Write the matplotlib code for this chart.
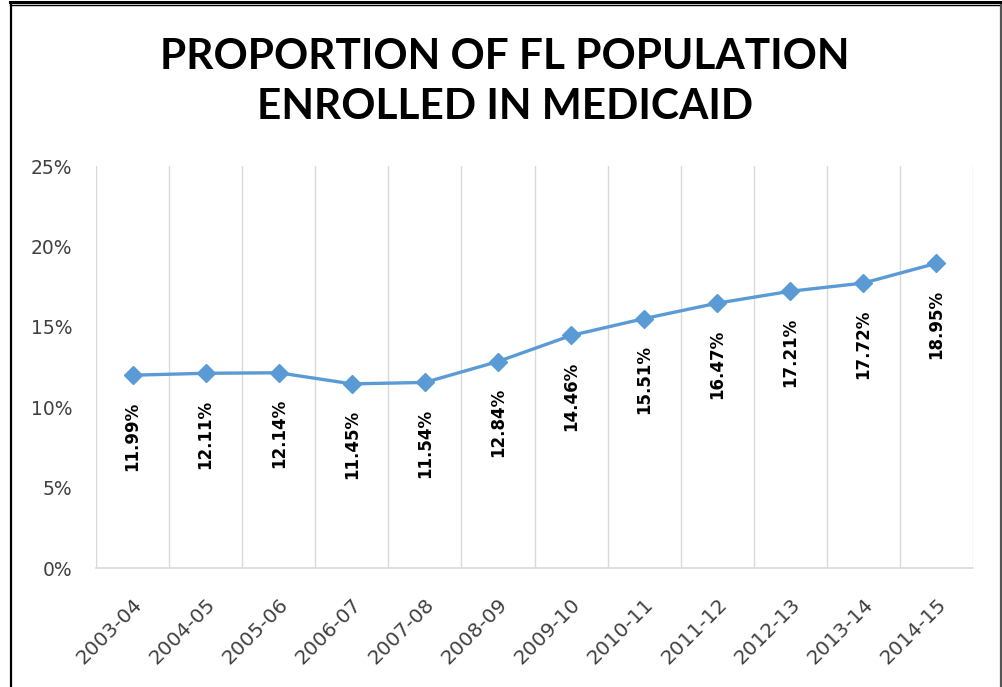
import matplotlib
matplotlib.use("Agg")
import matplotlib.pyplot as plt
from matplotlib.lines import Line2D
from matplotlib.ticker import PercentFormatter
from matplotlib.transforms import ScaledTranslation

# data
years = ["2003-04", "2004-05", "2005-06", "2006-07", "2007-08", "2008-09",
         "2009-10", "2010-11", "2011-12", "2012-13", "2013-14", "2014-15"]
share = [11.99, 12.11, 12.14, 11.45, 11.54, 12.84,
         14.46, 15.51, 16.47, 17.21, 17.72, 18.95]

W, H = 1003, 687
fig = plt.figure(figsize=(W / 100, H / 100), dpi=100)

# outer frame (double line on top)
fig.add_artist(Line2D([10 / W, 1], [1 - 1.5 / H, 1 - 1.5 / H], color="black", lw=2.2, transform=fig.transFigure))
fig.add_artist(Line2D([10 / W, 1], [1 - 5 / H, 1 - 5 / H], color="black", lw=1.0, transform=fig.transFigure))
fig.add_artist(Line2D([10.5 / W, 10.5 / W], [0, 1 - 5 / H], color="black", lw=1.6, transform=fig.transFigure))
fig.add_artist(Line2D([1001.5 / W, 1001.5 / W], [0, 1 - 5 / H], color="#555555", lw=1.6, transform=fig.transFigure))

ax = fig.add_axes([96 / W, (H - 568) / H, (973 - 96) / W, (568 - 166) / H])

x = list(range(len(years)))
ax.plot(x, share, color="#5B9BD5", lw=2.4, marker="D", ms=9, mec="#5B9BD5", mfc="#5B9BD5", zorder=3)

for xi, v in zip(x, share):
    ax.annotate(f"{v:.2f}%", (xi, v), xytext=(0, -19), textcoords="offset points",
                rotation=90, ha="center", va="top", fontsize=12, fontweight="bold", color="black")

ax.set_xlim(-0.5, len(years) - 0.5)
ax.set_ylim(0, 25)
ax.set_yticks([0, 5, 10, 15, 20, 25])
ax.yaxis.set_major_formatter(PercentFormatter(decimals=0))
ax.set_xticks(x)
ax.set_xticklabels(years, rotation=45, ha="right", va="top", rotation_mode="anchor")
shift = ScaledTranslation(-6 / 72, 0, fig.dpi_scale_trans)
for lab in ax.get_xticklabels():
    lab.set_transform(lab.get_transform() + shift)
    lab.set_fontsize(14.5)

for b in range(len(years) + 1):
    ax.axvline(b - 0.5, color="#D9D9D9", lw=1.0, zorder=1)

for s in ["left", "right", "top"]:
    ax.spines[s].set_visible(False)
ax.spines["bottom"].set_color("#D9D9D9")
ax.spines["bottom"].set_linewidth(1.2)

ax.tick_params(axis="both", length=0, colors="#404040")
ax.tick_params(axis="y", pad=17, labelsize=13.5)
ax.tick_params(axis="x", pad=19)

fig.text(505 / W, 1 - 82 / H, "PROPORTION OF FL POPULATION\nENROLLED IN MEDICAID",
         ha="center", va="center", fontsize=30.5, fontweight="bold", family="Lato",
         linespacing=1.4, color="black")

fig.savefig("out.png", dpi=100)
